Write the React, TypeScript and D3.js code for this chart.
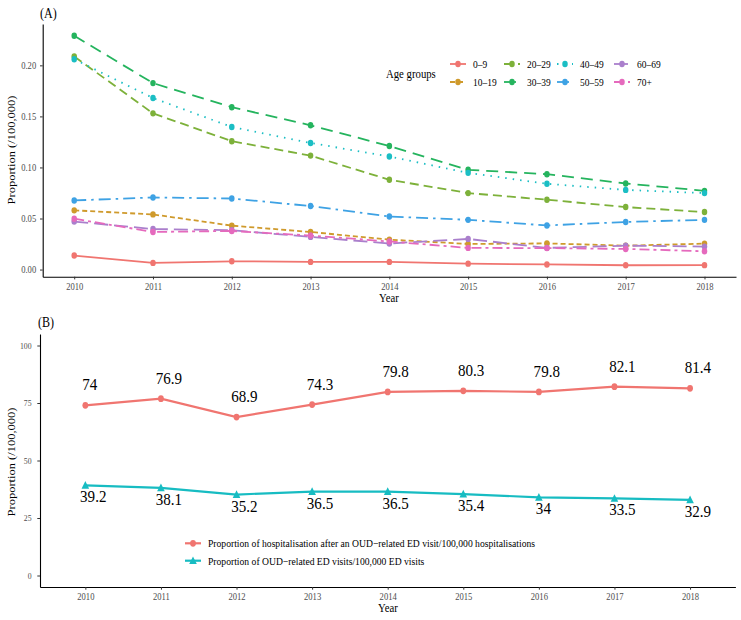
import React, { useEffect, useRef } from 'react';
import * as d3 from 'd3';

// data
const years = [2010, 2011, 2012, 2013, 2014, 2015, 2016, 2017, 2018];
const ageGroups = ['0–9', '10–19', '20–29', '30–39', '40–49', '50–59', '60–69', '70+'];
const age0to9 = [0.0137, 0.0065, 0.0081, 0.0075, 0.0075, 0.0058, 0.005, 0.0042, 0.0043];
const age10to19 = [0.058, 0.054, 0.043, 0.0368, 0.0293, 0.0251, 0.0256, 0.0234, 0.0254];
const age20to29 = [0.2087, 0.153, 0.1257, 0.1116, 0.0879, 0.0749, 0.0684, 0.0612, 0.0563];
const age30to39 = [0.229, 0.1826, 0.159, 0.1413, 0.121, 0.0977, 0.0934, 0.0843, 0.0771];
const age40to49 = [0.206, 0.168, 0.1396, 0.124, 0.1107, 0.0947, 0.084, 0.078, 0.0749];
const age50to59 = [0.0677, 0.0706, 0.0696, 0.0622, 0.052, 0.0487, 0.0432, 0.0466, 0.0487];
const age60to69 = [0.047, 0.0397, 0.0385, 0.032, 0.0255, 0.03, 0.0212, 0.0234, 0.0225];
const age70plus = [0.0498, 0.0368, 0.0378, 0.0333, 0.0275, 0.0212, 0.021, 0.0202, 0.0179];
const ageSeries = [age0to9, age10to19, age20to29, age30to39, age40to49, age50to59, age60to69, age70plus];
const yTicksA = [0, 0.05, 0.1, 0.15, 0.2];

const hospSeries = [74, 76.9, 68.9, 74.3, 79.8, 80.3, 79.8, 82.1, 81.4];
const edSeries = [39.2, 38.1, 35.2, 36.5, 36.5, 35.4, 34, 33.5, 32.9];
const yTicksB = [0, 25, 50, 75, 100];
const legendB = [
  'Proportion of hospitalisation after an OUD−related ED visit/100,000 hospitalisations',
  'Proportion of OUD−related ED visits/100,000 ED visits',
];

const colors = ['#F07570', '#CF9A2C', '#7DB13A', '#25B45E', '#1BBEC4', '#3EA2E4', '#AA7FCC', '#E56ABD'];
const dashes = ['none', '5,3', '9,5', '12,7', '1.5,6', '12,5,2.5,5', '14,6', '10,4,3,4'];
const FONT = '"Liberation Serif", "Times New Roman", serif';
const SX = 0.86; // the figure looks horizontally squeezed

const App: React.FC = () => {
  const ref = useRef<SVGSVGElement | null>(null);

  useEffect(() => {
    const svg = d3.select(ref.current);
    svg.selectAll('*').remove();

    const text = (x: number, y: number, s: string, size: number, anchor = 'start', color = '#000') =>
      svg.append('text')
        .attr('transform', `translate(${x},${y}) scale(${SX},1)`)
        .attr('text-anchor', anchor)
        .attr('font-family', FONT)
        .attr('font-size', size)
        .attr('fill', color)
        .text(s);

    const styleAxis = (g: any, size: number) => {
      g.select('.domain').attr('stroke', '#000').attr('stroke-width', 1.1);
      g.selectAll('.tick line').attr('stroke', '#333');
      g.selectAll('.tick text')
        .attr('font-family', FONT)
        .attr('font-size', size)
        .attr('fill', '#4D4D4D');
    };

    // ---------- panel A ----------
    const xA = d3.scaleLinear().domain([2009.6, 2018.4]).range([42.7, 736]);
    const yA = d3.scaleLinear().domain([-0.007, 0.2405]).range([276.7, 24]);

    text(40, 18, '(A)', 14);

    const axAy = svg.append('g')
      .attr('transform', 'translate(42.7,0)')
      .call(d3.axisLeft(yA).tickValues(yTicksA).tickFormat(d3.format('.2f')).tickSize(2.7).tickSizeOuter(0));
    styleAxis(axAy, 10);
    axAy.selectAll('.tick text').attr('x', -6.5 / SX).attr('transform', `scale(${SX},1)`);

    const axAx = svg.append('g')
      .attr('transform', 'translate(0,276.7)')
      .call(d3.axisBottom(xA).tickValues(years).tickFormat(d3.format('d')).tickSize(2.7).tickSizeOuter(0));
    styleAxis(axAx, 10);
    axAx.selectAll('.tick text').attr('y', 6).attr('transform', `scale(${SX},1)`);

    text(389, 302, 'Year', 12.5, 'middle');
    svg.append('text')
      .attr('transform', `translate(15,150) scale(${SX},1) rotate(-90)`)
      .attr('text-anchor', 'middle')
      .attr('font-family', FONT)
      .attr('font-size', 12.5)
      .text('Proportion (/100,000)');

    const lineA = d3.line<number>().x((_, i) => xA(years[i])).y(d => yA(d));
    ageSeries.forEach((vals, k) => {
      svg.append('path')
        .attr('d', lineA(vals))
        .attr('fill', 'none')
        .attr('stroke', colors[k])
        .attr('stroke-width', 1.8)
        .attr('stroke-dasharray', dashes[k]);
      svg.append('g')
        .selectAll('ellipse')
        .data(vals)
        .enter()
        .append('ellipse')
        .attr('cx', (_, i) => xA(years[i]))
        .attr('cy', d => yA(d))
        .attr('rx', 3.2 * SX)
        .attr('ry', 3.2)
        .attr('fill', colors[k]);
    });

    // legend A
    text(386, 78, 'Age groups', 12.5);
    const colX = [458, 512, 565, 622];
    const rowY = [64, 82];
    ageGroups.forEach((g, k) => {
      const cx = colX[Math.floor(k / 2)];
      const cy = rowY[k % 2];
      svg.append('line')
        .attr('x1', cx - 8).attr('x2', cx + 8)
        .attr('y1', cy).attr('y2', cy)
        .attr('stroke', colors[k])
        .attr('stroke-width', 1.8)
        .attr('stroke-dasharray', dashes[k]);
      svg.append('ellipse')
        .attr('cx', cx).attr('cy', cy)
        .attr('rx', 3.2 * SX).attr('ry', 3.2)
        .attr('fill', colors[k]);
      text(cx + 15, cy + 3.8, g, 11);
    });

    // ---------- panel B ----------
    const xB = d3.scaleLinear().domain([2009.4, 2018.6]).range([40, 735.4]);
    const yB = d3.scaleLinear().domain([-5, 105]).range([587, 334]);

    text(38, 327, '(B)', 14);

    const axBy = svg.append('g')
      .attr('transform', 'translate(40,0)')
      .call(d3.axisLeft(yB).tickValues(yTicksB).tickSize(2.7).tickSizeOuter(0));
    styleAxis(axBy, 9);
    axBy.selectAll('.tick text').attr('x', -8.5 / SX).attr('transform', `scale(${SX},1)`);

    const axBx = svg.append('g')
      .attr('transform', 'translate(0,587)')
      .call(d3.axisBottom(xB).tickValues(years).tickFormat(d3.format('d')).tickSize(2.7).tickSizeOuter(0));
    styleAxis(axBx, 10);
    axBx.selectAll('.tick text').attr('y', 6).attr('transform', `scale(${SX},1)`);

    text(388, 612, 'Year', 12.5, 'middle');
    svg.append('text')
      .attr('transform', `translate(15,462) scale(${SX},1) rotate(-90)`)
      .attr('text-anchor', 'middle')
      .attr('font-family', FONT)
      .attr('font-size', 12.5)
      .text('Proportion (/100,000)');

    const lineB = d3.line<number>().x((_, i) => xB(years[i])).y(d => yB(d));
    const tri = d3.symbol().type(d3.symbolTriangle).size(34);
    const seriesB = [
      { vals: hospSeries, color: '#F07570', shape: 'circle', dy: -15 },
      { vals: edSeries, color: '#17BCC2', shape: 'triangle', dy: 17 },
    ];
    seriesB.forEach(s => {
      svg.append('path')
        .attr('d', lineB(s.vals))
        .attr('fill', 'none')
        .attr('stroke', s.color)
        .attr('stroke-width', 2.2);
      s.vals.forEach((v, i) => {
        const px = xB(years[i]);
        const py = yB(v);
        if (s.shape === 'circle') {
          svg.append('ellipse').attr('cx', px).attr('cy', py)
            .attr('rx', 3.4 * SX).attr('ry', 3.4).attr('fill', s.color);
        } else {
          svg.append('path').attr('d', tri())
            .attr('transform', `translate(${px},${py + 0.8}) scale(${SX},1)`)
            .attr('fill', s.color);
        }
        const lbl = text(px, py + s.dy, String(v), 17.5, 'start');
        const w = (lbl.node() as SVGTextElement).getComputedTextLength() * SX;
        lbl.attr('transform', `translate(${px - 0.2 * w},${py + s.dy}) scale(${SX},1)`);
      });
    });

    // legend B
    const legY = [543.3, 560.7];
    seriesB.forEach((s, k) => {
      const cy = legY[k];
      svg.append('line')
        .attr('x1', 185).attr('x2', 201)
        .attr('y1', cy).attr('y2', cy)
        .attr('stroke', s.color)
        .attr('stroke-width', 2.2);
      if (s.shape === 'circle') {
        svg.append('ellipse').attr('cx', 193).attr('cy', cy)
          .attr('rx', 3.4 * SX).attr('ry', 3.4).attr('fill', s.color);
      } else {
        svg.append('path').attr('d', tri())
          .attr('transform', `translate(193,${cy + 0.8}) scale(${SX},1)`)
          .attr('fill', s.color);
      }
      text(208, cy + 4, legendB[k], 11.2);
    });
  }, []);

  return (
    <svg
      ref={ref}
      width={741}
      height={620}
      style={{ position: 'absolute', left: 0, top: 0, background: '#fff' }}
    />
  );
};

export default App;
